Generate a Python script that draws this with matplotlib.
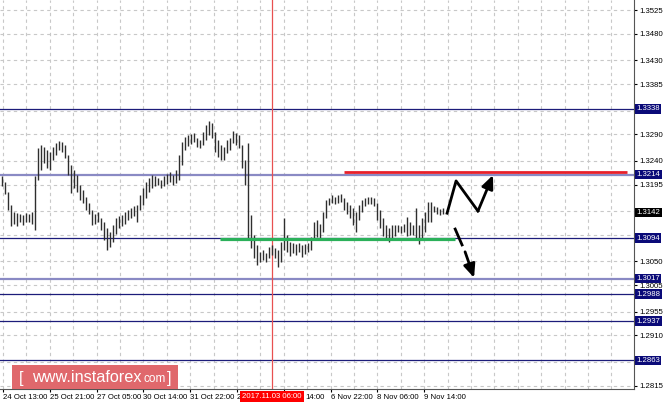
import numpy as np
import matplotlib.pyplot as plt
import matplotlib.transforms as mtransforms
from matplotlib.patches import Rectangle

plt.rcParams['font.family'] = ['Liberation Sans', 'DejaVu Sans']

# bar highs / lows (one bar per slot)
highs = [1.3211, 1.3200, 1.3181, 1.3156, 1.3143, 1.3141, 1.3140, 1.3138, 1.3141, 1.3140,
         1.3143, 1.3211, 1.3264, 1.3270, 1.3266, 1.3260, 1.3257, 1.3266, 1.3274, 1.3277,
         1.3275, 1.3270, 1.3251, 1.3232, 1.3223, 1.3213, 1.3194, 1.3185, 1.3172, 1.3160,
         1.3147, 1.3140, 1.3143, 1.3132, 1.3124, 1.3113, 1.3105, 1.3119, 1.3132, 1.3136,
         1.3138, 1.3143, 1.3147, 1.3151, 1.3155, 1.3156, 1.3175, 1.3189, 1.3200, 1.3208,
         1.3213, 1.3211, 1.3208, 1.3204, 1.3211, 1.3215, 1.3219, 1.3213, 1.3223, 1.3251,
         1.3275, 1.3285, 1.3289, 1.3291, 1.3293, 1.3283, 1.3279, 1.3295, 1.3308, 1.3315,
         1.3311, 1.3295, 1.3279, 1.3270, 1.3266, 1.3279, 1.3283, 1.3296, 1.3293, 1.3289,
         1.3270, 1.3242, 1.3274, 1.3138, 1.3100, 1.3081, 1.3068, 1.3071, 1.3066, 1.3077,
         1.3081, 1.3075, 1.3071, 1.3086, 1.3132, 1.3100, 1.3086, 1.3085, 1.3083, 1.3085,
         1.3081, 1.3083, 1.3085, 1.3096, 1.3124, 1.3128, 1.3121, 1.3143, 1.3166, 1.3170,
         1.3175, 1.3172, 1.3175, 1.3177, 1.3170, 1.3162, 1.3156, 1.3151, 1.3143, 1.3156,
         1.3166, 1.3170, 1.3172, 1.3172, 1.3170, 1.3160, 1.3147, 1.3132, 1.3119, 1.3113,
         1.3119, 1.3119, 1.3119, 1.3117, 1.3121, 1.3134, 1.3124, 1.3119, 1.3151, 1.3119,
         1.3132, 1.3143, 1.3162, 1.3162, 1.3155, 1.3153, 1.3149, 1.3151]
lows = [1.3192, 1.3177, 1.3147, 1.3117, 1.3121, 1.3117, 1.3124, 1.3119, 1.3124, 1.3124,
        1.3121, 1.3109, 1.3204, 1.3223, 1.3236, 1.3226, 1.3223, 1.3242, 1.3251, 1.3260,
        1.3257, 1.3245, 1.3213, 1.3179, 1.3189, 1.3181, 1.3166, 1.3160, 1.3147, 1.3139,
        1.3119, 1.3121, 1.3124, 1.3109, 1.3090, 1.3071, 1.3077, 1.3087, 1.3102, 1.3113,
        1.3117, 1.3121, 1.3128, 1.3132, 1.3136, 1.3124, 1.3147, 1.3156, 1.3170, 1.3181,
        1.3189, 1.3192, 1.3194, 1.3189, 1.3192, 1.3196, 1.3200, 1.3194, 1.3198, 1.3204,
        1.3232, 1.3260, 1.3268, 1.3272, 1.3275, 1.3266, 1.3264, 1.3270, 1.3279, 1.3289,
        1.3283, 1.3257, 1.3247, 1.3242, 1.3242, 1.3255, 1.3260, 1.3274, 1.3270, 1.3264,
        1.3226, 1.3194, 1.3092, 1.3075, 1.3056, 1.3043, 1.3049, 1.3053, 1.3049, 1.3056,
        1.3062, 1.3056, 1.3039, 1.3049, 1.3071, 1.3068, 1.3060, 1.3066, 1.3062, 1.3068,
        1.3058, 1.3064, 1.3068, 1.3071, 1.3090, 1.3096, 1.3094, 1.3105, 1.3132, 1.3156,
        1.3160, 1.3158, 1.3160, 1.3162, 1.3147, 1.3139, 1.3132, 1.3119, 1.3105, 1.3128,
        1.3143, 1.3155, 1.3158, 1.3158, 1.3155, 1.3128, 1.3113, 1.3098, 1.3090, 1.3087,
        1.3094, 1.3098, 1.3105, 1.3104, 1.3105, 1.3098, 1.3100, 1.3100, 1.3090, 1.3083,
        1.3094, 1.3105, 1.3124, 1.3124, 1.3143, 1.3139, 1.3138, 1.3139]

# price scale ticks (empty label = hidden behind a level box)
yticks = [1.3525, 1.3480, 1.3430, 1.3385, 1.3335, 1.3290, 1.3240, 1.3195,
          1.3145, 1.3100, 1.3050, 1.3005, 1.2955, 1.2910, 1.2860, 1.2815]
ytick_labels = ['1.3525', '1.3480', '1.3430', '1.3385', '', '1.3290', '1.3240', '1.3195',
                '', '', '1.3050', '1.3005', '1.2955', '1.2910', '', '1.2815']

# horizontal levels
dark_levels = [1.3338, 1.3094, 1.2988, 1.2937, 1.2863]
light_levels = [1.3214, 1.3017]
current_price = 1.3142

# time axis labels (the cursor box hides most of two of them)
time_labels = ['24 Oct 13:00', '25 Oct 21:00', '27 Oct 05:00', '30 Oct 14:00',
               '31 Oct 22:00', '2', '', '6 Nov 22:00',
               '8 Nov 06:00', '9 Nov 14:00']
partial_label = '14:00'
cursor_bar = 90.2
cursor_label = '2017.11.03 06:00'

# analyst drawings
resist_x = [114.2, 208.5]
resist_y = 1.3219
support_x = [72.8, 151.2]
support_y = 1.3092
up_path_x = [148.5, 151.5, 158.8, 163.8]
up_path_y = [1.3141, 1.3202, 1.3145, 1.3213]
down_seg_x = [151.2, 153.5]
down_seg_y = [1.3111, 1.3081]
down_arrow_x = [154.5, 157.5]
down_arrow_y = [1.3068, 1.3019]

fig = plt.figure(figsize=(6.64, 4.04), dpi=100)
ax = fig.add_axes([0, 15 / 404, 634 / 664, 389 / 404])
ax.set_xlim(-0.5, 210.8)
ax.set_ylim(1.28087, 1.35439)

# grid
grid_x = 0.5 + 7.8 * np.arange(0, 28)
for gx in grid_x:
    ax.axvline(gx, color='#c8c8c8', lw=0.8, ls=(0, (3, 3)), zorder=0)
for gy in yticks:
    ax.axhline(gy, color='#c8c8c8', lw=0.8, ls=(0, (3, 3)), zorder=0)

# levels
for lv in dark_levels:
    ax.axhline(lv, color='#1c1c7a', lw=0.9, zorder=1)
for lv in light_levels:
    ax.axhline(lv, color='#8a8ac4', lw=1.6, zorder=1)

# cursor line
ax.axvline(cursor_bar, color='#e85050', lw=0.9, zorder=1)

# price bars
idx = np.arange(len(highs))
ax.vlines(idx, lows, highs, color='#2e2e2e', lw=1.0, zorder=3)

# drawings
ax.plot(resist_x, [resist_y, resist_y], color='#e8202a', lw=2.0, zorder=4,
        solid_capstyle='butt')
ax.plot(support_x, [support_y, support_y], color='#2bb05a', lw=2.3, zorder=4,
        solid_capstyle='butt')
ax.plot(up_path_x[:-1], up_path_y[:-1], color='black', lw=2.0, zorder=5)
ax.annotate('', xy=(up_path_x[-1], up_path_y[-1]), xytext=(up_path_x[-2], up_path_y[-2]),
            arrowprops=dict(arrowstyle='-|>,head_length=0.8,head_width=0.35',
                            color='black', lw=2.0, shrinkA=0, shrinkB=0), zorder=5)
ax.plot(down_seg_x, down_seg_y, color='black', lw=2.0, zorder=5)
ax.annotate('', xy=(down_arrow_x[1], down_arrow_y[1]), xytext=(down_arrow_x[0], down_arrow_y[0]),
            arrowprops=dict(arrowstyle='-|>,head_length=0.8,head_width=0.35',
                            color='black', lw=2.0, shrinkA=0, shrinkB=0), zorder=5)

# spines / ticks
for s in ['top', 'left']:
    ax.spines[s].set_visible(False)
ax.spines['right'].set_color('#555555')
ax.spines['bottom'].set_color('#555555')
ax.yaxis.tick_right()
ax.set_yticks(yticks)
ax.set_yticklabels(ytick_labels)
ax.tick_params(axis='y', length=2, width=0.8, pad=2, labelsize=5.6, colors='black')
tick_pos = 0.5 + 15.6 * np.arange(len(time_labels))
ax.set_xticks(tick_pos)
ax.set_xticklabels(time_labels, ha='left')
ax.tick_params(axis='x', length=2, width=0.8, pad=1.5, labelsize=5.6, colors='black')

xtrans = mtransforms.blended_transform_factory(ax.transData, ax.transAxes)
ax.text(tick_pos[6] + 7.3, -0.0135, partial_label, transform=xtrans, fontsize=5.6,
        ha='left', va='top', clip_on=False)

# level boxes on the price scale
trans = mtransforms.blended_transform_factory(ax.transAxes, ax.transData)
for lv in dark_levels + light_levels:
    ax.text(1.004, lv, '%.4f' % lv, transform=trans, fontsize=5.6, color='white',
            va='center', ha='left', clip_on=False, zorder=6,
            bbox=dict(boxstyle='square,pad=0.15', fc='#0a0a78', ec='none'))
ax.text(1.004, current_price, '%.4f' % current_price, transform=trans, fontsize=5.6,
        color='white', va='center', ha='left', clip_on=False, zorder=6,
        bbox=dict(boxstyle='square,pad=0.15', fc='black', ec='none'))

# cursor time box
ax.text(cursor_bar, -0.01, cursor_label, transform=xtrans, fontsize=5.6, color='white',
        ha='center', va='top', clip_on=False, zorder=7,
        bbox=dict(boxstyle='square,pad=0.3', fc='#ff0000', ec='none'))

# watermark logo
fig.patches.append(Rectangle((12 / 664, (404 - 389) / 404), 166 / 664, 24 / 404,
                             transform=fig.transFigure, fc='#e0686c', ec='none',
                             zorder=8))
yc = (404 - 378) / 404
fig.text(19 / 664, yc, '[', fontsize=12, color='white', va='center', ha='left', zorder=9)
fig.text(32 / 664, yc, 'www.instaforex', fontsize=11.7, color='white',
         va='center', ha='left', zorder=9)
fig.text(143 / 664, yc - 0.003, 'com', fontsize=8.5, color='white',
         va='center', ha='left', zorder=9)
fig.text(167 / 664, yc, ']', fontsize=12, color='white', va='center', ha='left', zorder=9)

fig.savefig('out.png', dpi=100)
